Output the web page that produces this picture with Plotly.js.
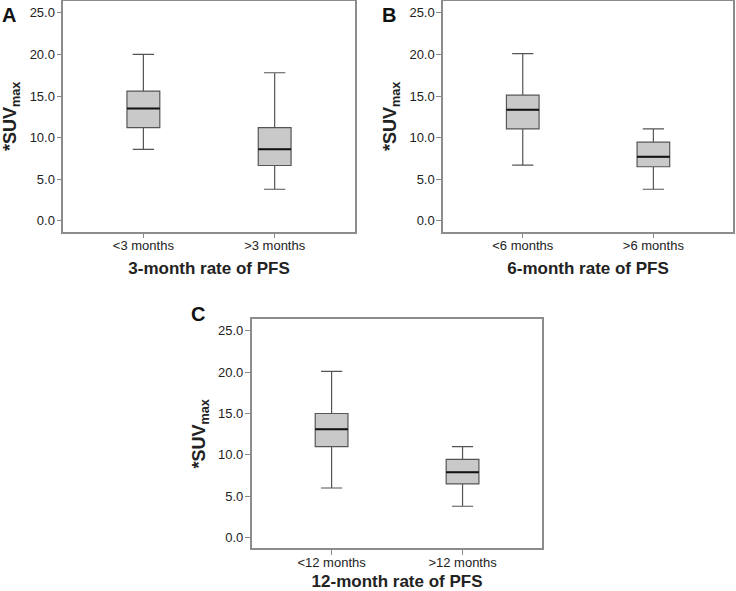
<!DOCTYPE html>
<html>
<head>
<meta charset="utf-8">
<script src="https://cdn.plot.ly/plotly-3.0.1.min.js"></script>
<style>
  body { margin: 0; background: #fff; }
  #graph { width: 736px; height: 591px; }
</style>
</head>
<body>
<div id="graph"></div>
<script>
// panel A: 3-month rate of PFS
const labelsA = ['<3 months', '>3 months'];
const lowA = [8.6, 3.8];
const q1A = [11.2, 6.65];
const medA = [13.5, 8.6];
const q3A = [15.6, 11.2];
const highA = [20.0, 17.8];

// panel B: 6-month rate of PFS
const labelsB = ['<6 months', '>6 months'];
const lowB = [6.7, 3.8];
const q1B = [11.05, 6.5];
const medB = [13.35, 7.7];
const q3B = [15.1, 9.45];
const highB = [20.1, 11.05];

// panel C: 12-month rate of PFS
const labelsC = ['<12 months', '>12 months'];
const lowC = [6.0, 3.8];
const q1C = [11.0, 6.5];
const medC = [13.1, 7.9];
const q3C = [15.0, 9.45];
const highC = [20.1, 11.0];

const yTicks = [0, 5, 10, 15, 20, 25];
const boxWidth = 0.25;

function boxTrace(ax, low, q1, med, q3, high) {
  return {
    type: 'box',
    x: med.map((_, i) => i),
    q1: q1, median: med, q3: q3,
    lowerfence: low, upperfence: high,
    width: boxWidth,
    whiskerwidth: 0.65,
    fillcolor: '#c9c9c9',
    line: { color: '#555', width: 1.2 },
    boxpoints: false,
    hoverinfo: 'skip',
    xaxis: 'x' + ax, yaxis: 'y' + ax,
    showlegend: false
  };
}

// darker median line drawn over the box
function medianTrace(ax, med) {
  let xs = [], ys = [];
  med.forEach((m, i) => {
    xs.push(i - boxWidth / 2, i + boxWidth / 2, null);
    ys.push(m, m, null);
  });
  return {
    type: 'scatter', mode: 'lines',
    x: xs, y: ys,
    line: { color: '#111', width: 2 },
    hoverinfo: 'skip',
    xaxis: 'x' + ax, yaxis: 'y' + ax,
    showlegend: false
  };
}

function xAxis(domain, anchor, labels, title) {
  return {
    domain: domain, anchor: anchor,
    range: [-0.61, 1.61],
    tickvals: labels.map((_, i) => i),
    ticktext: labels,
    ticks: 'outside', ticklen: 5, tickcolor: '#888',
    ticklabelstandoff: -4,
    showline: true, mirror: true, linecolor: '#8c8c8c', linewidth: 1.5,
    showgrid: false, zeroline: false,
    tickfont: { size: 13, color: '#222' },
    title: { text: title, font: { size: 17, color: '#222', weight: 'bold' }, standoff: 10 }
  };
}

function yAxis(domain, anchor) {
  return {
    domain: domain, anchor: anchor,
    range: [-1.3, 26.4],
    tickvals: yTicks,
    tickformat: '.1f',
    ticks: 'outside', ticklen: 5, tickcolor: '#888',
    ticklabelstandoff: -1,
    showline: true, mirror: true, linecolor: '#8c8c8c', linewidth: 1.5,
    showgrid: false, zeroline: false,
    tickfont: { size: 13, color: '#222' },
    title: { text: '*SUV<sub>max</sub>', font: { size: 18, color: '#222', weight: 'bold' }, standoff: 8 }
  };
}

const data = [
  boxTrace('', lowA, q1A, medA, q3A, highA), medianTrace('', medA),
  boxTrace('2', lowB, q1B, medB, q3B, highB), medianTrace('2', medB),
  boxTrace('3', lowC, q1C, medC, q3C, highC), medianTrace('3', medC)
];

const yTop = [0.608, 0.998];
const yBottom = [0.072, 0.46];

const layout = {
  width: 736, height: 591,
  margin: { l: 0, r: 0, t: 0, b: 0 },
  paper_bgcolor: '#fff', plot_bgcolor: '#fff',
  font: { family: 'Liberation Sans, Arial, sans-serif', color: '#222' },
  xaxis: xAxis([0.086, 0.482], 'y', labelsA, '3-month rate of PFS'),
  yaxis: yAxis(yTop, 'x'),
  xaxis2: xAxis([0.602, 0.996], 'y2', labelsB, '6-month rate of PFS'),
  yaxis2: yAxis(yTop, 'x2'),
  xaxis3: xAxis([0.342, 0.737], 'y3', labelsC, '12-month rate of PFS'),
  yaxis3: yAxis(yBottom, 'x3'),
  annotations: [
    { text: '<b>A</b>', x: 0.0, y: 0.997 },
    { text: '<b>B</b>', x: 0.516, y: 0.997 },
    { text: '<b>C</b>', x: 0.257, y: 0.49 }
  ].map(a => Object.assign(a, {
    xref: 'paper', yref: 'paper', xanchor: 'left', yanchor: 'top',
    showarrow: false, font: { size: 20, color: '#111' }
  }))
};

Plotly.newPlot('graph', data, layout, { displayModeBar: false });
</script>
</body>
</html>
